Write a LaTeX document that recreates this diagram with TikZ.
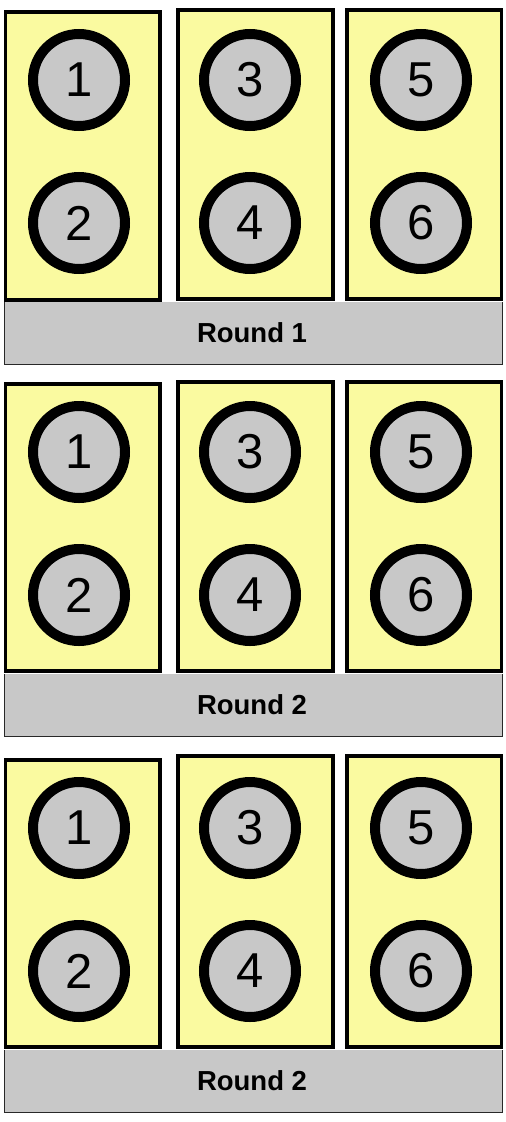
\documentclass[tikz,border=0pt]{standalone}
\usepackage{fontspec}
\setmainfont{Liberation Sans}
\definecolor{boxyellow}{RGB}{250,250,160}
\definecolor{discgray}{RGB}{200,200,200}
\definecolor{bargray}{RGB}{200,200,200}
\definecolor{barline}{RGB}{40,40,40}
\begin{document}
\begin{tikzpicture}[x=1pt,y=-1pt,
  slotbox/.style={draw=black,fill=boxyellow,line width=3.8pt},
  numdisc/.style={circle,draw=black,fill=discgray,line width=10pt,minimum size=92pt,inner sep=0pt,
    font=\fontsize{49}{49}\selectfont},
  roundbar/.style={fill=bargray},
  roundlabel/.style={font=\bfseries\fontsize{27.5}{27.5}\selectfont,inner sep=0pt}]
\useasboundingbox (0,0) rectangle (506,1122);
\foreach \b/\dy/\lab/\ta/\tb/\bb in {1/0/Round 1/2/0/0, 2/372/Round 2/2/0/-1, 3/748/Round 2/2/-2/-1}{
  % boxes
  \path[slotbox] (5.5,\dy+10+\ta) rectangle (160,\dy+300+\bb);
  \path[slotbox] (178,\dy+10+\tb) rectangle (333,\dy+299);
  \path[slotbox] (347,\dy+10+\tb) rectangle (501.5,\dy+299);
  % discs
  \node[numdisc] (d1-\b) at (79,\dy+80) {1};
  \node[numdisc] (d2-\b) at (79,\dy+223) {2};
  \node[numdisc] (d3-\b) at (250,\dy+80) {3};
  \node[numdisc] (d4-\b) at (250,\dy+223) {4};
  \node[numdisc] (d5-\b) at (421,\dy+80) {5};
  \node[numdisc] (d6-\b) at (421,\dy+223) {6};
  % bar
  \fill[roundbar] (4,\dy+302) rectangle (502.5,\dy+364.5);
  \draw[barline,line width=1pt] (4.5,\dy+302) -- (4.5,\dy+364.5) -- (502.5,\dy+364.5) -- (502.5,\dy+302);
  \node[roundlabel] (lab-\b) at (252,\dy+333) {\lab};
}
\end{tikzpicture}
\end{document}
